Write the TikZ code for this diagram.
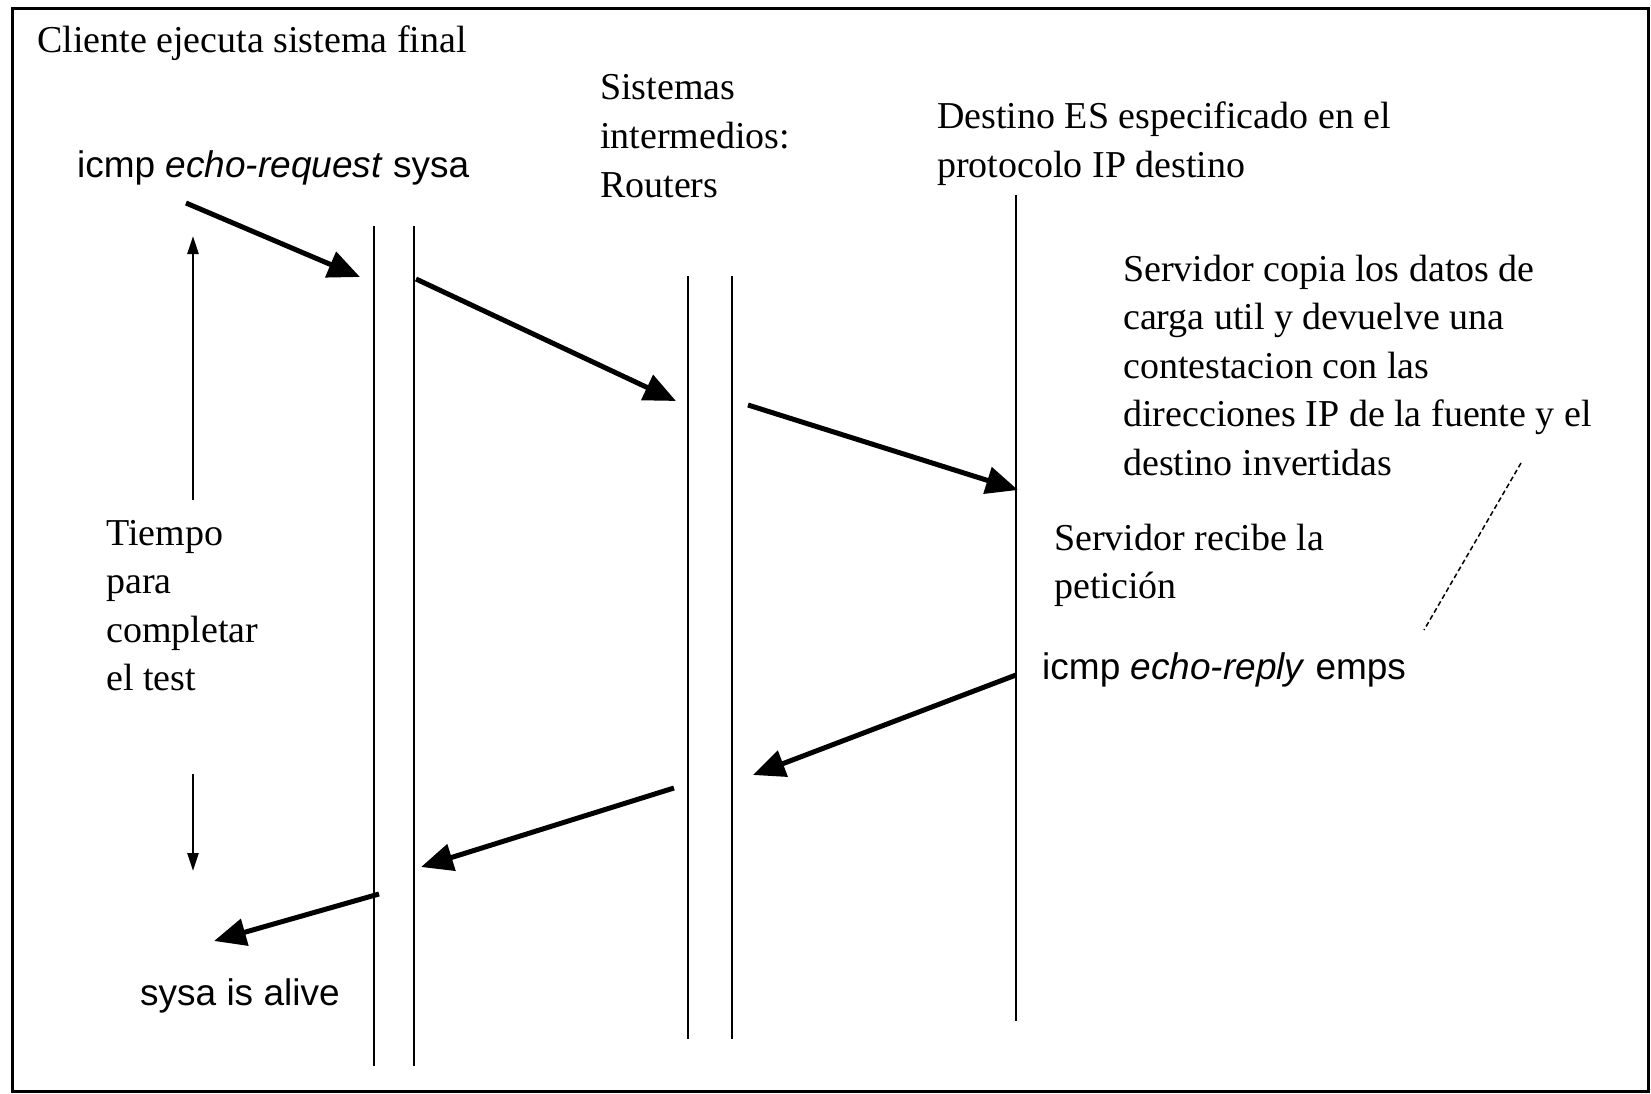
\documentclass[tikz,border=0pt]{standalone}
\usepackage{fontspec}
\setmainfont{Liberation Serif}
\setsansfont{Liberation Sans}
\usetikzlibrary{arrows.meta}
\begin{document}
\begin{tikzpicture}[x=1pt,y=-1pt,
  lbl/.style={font=\fontsize{38}{48.5}\selectfont, anchor=base west, align=left, inner sep=0pt},
  slbl/.style={font=\sffamily\fontsize{37}{48.5}\selectfont, anchor=base west, inner sep=0pt},
  lifeline/.style={line width=2.5pt},
  msg/.style={line width=5pt, -{Triangle[length=32pt,width=27pt]}},
  timearrow/.style={line width=2.5pt, -{Triangle[length=18pt,width=11pt]}},
  note/.style={line width=1.5pt, dash pattern=on 5pt off 3pt}]
\useasboundingbox (0,0) rectangle (1651,1094);
\draw[line width=3pt] (12,9) rectangle (1648,1091);

% lifelines
\coordinate (c1t) at (374,226);  \coordinate (c1b) at (374,1066);
\coordinate (c2t) at (414,226);  \coordinate (c2b) at (414,1066);
\coordinate (r1t) at (688,276);  \coordinate (r1b) at (688,1039);
\coordinate (r2t) at (732,276);  \coordinate (r2b) at (732,1039);
\coordinate (dt) at (1016,195);  \coordinate (db) at (1016,1021);
\draw[lifeline] (c1t) -- (c1b);
\draw[lifeline] (c2t) -- (c2b);
\draw[lifeline] (r1t) -- (r1b);
\draw[lifeline] (r2t) -- (r2b);
\draw[lifeline] (dt) -- (db);

% labels (multi-line nodes: base = last line's baseline)
\node[lbl] (title) at (37,53) {Cliente ejecuta sistema final};
\node[slbl] (req) at (77,178) {icmp \textit{echo-request} sysa};
\node[lbl] (routers) at (600,197) {Sistemas\\intermedios:\\Routers};
\node[lbl] (dest) at (937,177.5) {Destino ES especificado en el\\protocolo IP destino};
\node[lbl] (copia) at (1123,475) {Servidor copia los datos de\\carga util y devuelve una\\contestacion con las\\direcciones IP de la fuente y el\\destino invertidas};
\node[lbl] (recibe) at (1054,598.5) {Servidor recibe la\\petición};
\node[slbl] (reply) at (1042,679) {icmp \textit{echo-reply} emps};
\node[lbl] (tiempo) at (106,690.5) {Tiempo\\para\\completar\\el test};
\node[slbl] (alive) at (140,1005) {sysa is alive};

% messages
\coordinate (m1s) at (186,203); \coordinate (m1e) at (360,277);
\coordinate (m2s) at (416,279); \coordinate (m2e) at (676,401);
\coordinate (m3s) at (748,405); \coordinate (m3e) at (1018,490);
\coordinate (m4s) at (1016,675); \coordinate (m4e) at (753,775);
\coordinate (m5s) at (674,788); \coordinate (m5e) at (421,867);
\coordinate (m6s) at (379,894); \coordinate (m6e) at (214,941);
\draw[msg] (m1s) -- (m1e);
\draw[msg] (m2s) -- (m2e);
\draw[msg] (m3s) -- (m3e);
\draw[msg] (m4s) -- (m4e);
\draw[msg] (m5s) -- (m5e);
\draw[msg] (m6s) -- (m6e);

% time arrows
\coordinate (tu1) at (193,500); \coordinate (tu2) at (193,236);
\coordinate (td1) at (193,774); \coordinate (td2) at (193,871);
\draw[timearrow] (tu1) -- (tu2);
\draw[timearrow] (td1) -- (td2);

% note pointer
\coordinate (n1) at (1521,463); \coordinate (n2) at (1424,630);
\draw[note] (n1) -- (n2);
\end{tikzpicture}
\end{document}
